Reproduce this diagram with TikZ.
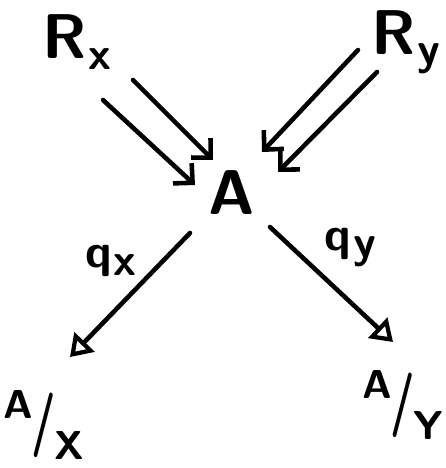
\documentclass[tikz,border=0pt]{standalone}
\usepackage{graphicx}
\usepackage{tikz}
\usetikzlibrary{arrows.meta}

% subscript and slanted quotient, hand-drawn sizes
\newcommand{\subl}[2]{#1\kern0.03em\raisebox{-0.35ex}{\fontsize{26}{26}\selectfont #2}}
\newcommand{\quotlbl}[2]{\raisebox{1.0ex}{#1}\kern-0.04em\raisebox{-0.25ex}{\scalebox{1.1}[1.6]{/}}\kern-0.04em\raisebox{-1.2ex}{#2}}

\tikzset{
    lbl/.style={font=\sffamily\bfseries\fontsize{36}{38}\selectfont, inner sep=1pt},
    quot/.style={font=\sffamily\bfseries\fontsize{23}{25}\selectfont, inner sep=0pt},
    qlbl/.style={font=\sffamily\bfseries\fontsize{27}{28}\selectfont, inner sep=1pt},
    dbl/.style={line width=2.6pt, line cap=round, -{Straight Barb[length=0.28cm, width=0.55cm, line width=2.6pt]}},
    proj/.style={line width=2.6pt, line cap=round, -{Triangle[open, length=0.42cm, width=0.55cm, line width=2.4pt]}}
}

\begin{document}
\begin{tikzpicture}[x=0.02cm, y=-0.02cm]
    \useasboundingbox (0,0) rectangle (446,468);

    \node[lbl] (rx) at (77,42) {\subl{R}{x}};
    \node[lbl] (ry) at (406,42) {\subl{R}{y}};
    \node[lbl] (a) at (232,193) {A};
    \node[quot] (ax) at (44,425) {\quotlbl{A}{X}};
    \node[quot] (ay) at (403,405) {\quotlbl{A}{Y}};

    % the two pairs into A
    \draw[dbl] ([shift={(56,38)}]rx.center) -- ([shift={(-19,-33)}]a.center);
    \draw[dbl] ([shift={(26,58)}]rx.center) -- ([shift={(-37,-8)}]a.center);
    \draw[dbl] ([shift={(-48,8)}]ry.center) -- ([shift={(30,-41)}]a.center);
    \draw[dbl] ([shift={(-29,30)}]ry.center) -- ([shift={(46,-21)}]a.center);

    % quotient maps
    \draw[proj] ([shift={(-42,40)}]a.center) -- ([shift={(26,-68)}]ax.center)
        node[qlbl, pos=0.4, above left=1pt] (qx) {\subl{q}{x}};
    \draw[proj] ([shift={(38,34)}]a.center) -- ([shift={(-10,-63)}]ay.center)
        node[qlbl, pos=0.4, above right=1pt] (qy) {\subl{q}{y}};
\end{tikzpicture}
\end{document}
